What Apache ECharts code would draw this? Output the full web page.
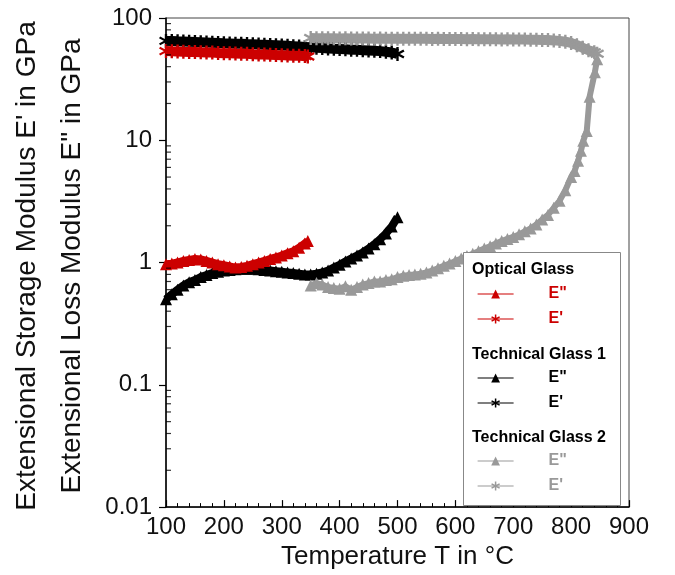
<!DOCTYPE html>
<html>
<head>
<meta charset="utf-8">
<script src="https://cdn.jsdelivr.net/npm/echarts@6/dist/echarts.min.js"></script>
<style>html,body{margin:0;padding:0;background:#fff}#c{width:675px;height:575px}</style>
</head>
<body>
<div id="c"></div>
<script>
// ---- data ----
const tempOG = [100,110,120,130,140,150,160,170,180,190,200,210,220,230,240,250,260,270,280,290,300,310,320,330,340,345];
const ogStorage = [53.6,53.4,53.3,53.0,52.8,52.7,52.4,52.2,52.1,51.8,51.6,51.5,51.2,51.0,50.9,50.6,50.4,50.3,50.0,49.8,49.7,49.4,49.2,49.1,48.8,48.5];
const ogLoss = [0.97,0.98,1.0,1.03,1.05,1.07,1.06,1.03,1.0,0.97,0.95,0.93,0.91,0.92,0.94,0.97,1.0,1.03,1.07,1.1,1.14,1.19,1.24,1.32,1.43,1.5];

const tempTG1 = [100,110,120,130,140,150,160,170,180,190,200,210,220,230,240,250,260,270,280,290,300,310,320,330,340,350,360,370,380,390,400,410,420,430,440,450,460,470,480,490,500];
const tg1Storage = [65.0,64.8,64.5,64.3,64.0,63.7,63.4,63.1,62.8,62.5,62.2,62.0,61.7,61.5,61.2,61.0,60.7,60.5,60.2,59.9,59.6,59.2,58.8,58.4,58.0,57.6,57.2,56.8,56.4,56.0,55.7,55.4,55.1,54.9,54.6,54.3,54.0,53.6,53.0,52.2,50.8];
const tg1Loss = [0.50,0.55,0.60,0.65,0.69,0.72,0.76,0.79,0.82,0.84,0.86,0.87,0.88,0.89,0.89,0.89,0.88,0.87,0.86,0.85,0.84,0.83,0.82,0.81,0.80,0.80,0.81,0.83,0.86,0.91,0.96,1.02,1.08,1.14,1.21,1.30,1.41,1.55,1.73,1.97,2.35];

const tempTG2Storage = [350,360,370,380,390,400,410,420,430,440,450,460,470,480,490,500,510,520,530,540,550,560,570,580,590,600,610,620,630,640,650,660,670,680,690,700,710,720,730,740,750,760,770,780,790,800,810,820,830,840,845];
const tg2Storage = [68.5,68.3,68.4,68.2,68.3,68.1,68.2,68.0,68.1,67.9,68.0,67.8,67.9,67.8,67.7,67.8,67.6,67.7,67.5,67.6,67.5,67.4,67.5,67.3,67.4,67.2,67.3,67.1,67.2,67.0,67.1,66.9,67.0,66.8,66.9,66.7,66.8,66.6,66.5,66.4,66.2,66.0,65.6,65.0,64.0,62.5,60.0,57.0,54.5,52.5,51.0];
const tempTG2Loss = [350,360,370,380,390,400,410,420,430,440,450,460,470,480,490,500,510,520,530,540,550,560,570,580,590,600,610,620,630,640,650,660,670,680,690,700,710,720,730,740,750,760,770,780,790,800,806,812,817,821,827,832,841,845];
const tg2Loss = [0.65,0.68,0.66,0.63,0.62,0.61,0.64,0.60,0.63,0.66,0.68,0.70,0.70,0.72,0.73,0.76,0.78,0.79,0.80,0.81,0.83,0.86,0.90,0.94,0.98,1.03,1.08,1.13,1.18,1.24,1.30,1.36,1.43,1.50,1.56,1.62,1.70,1.80,1.90,2.05,2.25,2.45,2.80,3.20,3.90,5.00,5.6,6.8,8.2,9.9,11.9,22.7,36,46];

const xTicks = [100,200,300,400,500,600,700,800,900];
const yTickLabels = ['0.01','0.1','1','10','100'];
const minorMantissas = [2,3,4,5,6,7,8,9];
const decades = [0.01,0.1,1,10];

const groups = ['Optical Glass','Technical Glass 1','Technical Glass 2'];
const colors = ['#cc0000','#000000','#999999'];

// ---- build ----
const zip = (xs, ys) => xs.map((x,i)=>[x, ys[i]]);
const STAR = 'path://M-1.6,-10 L1.6,-10 L1.6,10 L-1.6,10 Z M7.86,-6.39 L9.46,-3.61 L-7.86,6.39 L-9.46,3.61 Z M9.46,3.61 L7.86,6.39 L-9.46,-3.61 L-7.86,-6.39 Z';

const minorVals = [];
decades.forEach(d => minorMantissas.forEach(m => minorVals.push([100, +(m*d).toPrecision(3)])));

function lineSeries(name, data, color, symbol, size, width, z) {
  return {
    name, type:'line', data, symbol, symbolSize:size, z,
    showSymbol:true, clip:false,
    lineStyle:{color, width}, itemStyle:{color, borderWidth:0},
    emphasis:{disabled:true}
  };
}

const series = [
  lineSeries('Optical Glass|E"', zip(tempOG, ogLoss), colors[0], 'triangle', 12, 8, 3),
  lineSeries("Optical Glass|E'", zip(tempOG, ogStorage), colors[0], STAR, 14, 10, 3),
  lineSeries('Technical Glass 1|E"', zip(tempTG1, tg1Loss), colors[1], 'triangle', 12, 8, 2),
  lineSeries("Technical Glass 1|E'", zip(tempTG1, tg1Storage), colors[1], STAR, 14, 10, 2),
  lineSeries('Technical Glass 2|E"', zip(tempTG2Loss, tg2Loss), colors[2], 'triangle', 12, 6, 2),
  lineSeries("Technical Glass 2|E'", zip(tempTG2Storage, tg2Storage), colors[2], STAR, 14, 10, 2),
  {
    type:'scatter', data:minorVals, symbol:'rect', symbolSize:[5,1.2], symbolOffset:[2.5,0],
    itemStyle:{color:'#000'}, silent:true, z:5, clip:false, emphasis:{disabled:true}
  }
];

const legendTops = [281, 365, 448];
const legends = groups.map((g, gi) => ({
  orient:'vertical', left:472, top:legendTops[gi], itemWidth:36, itemHeight:11, itemGap:9,
  selectedMode:false, z:10,
  lineStyle:{width:1.2},
  itemStyle:{borderWidth:0},
  formatter: n => n.split('|')[1],
  textStyle:{fontFamily:'Liberation Sans', fontSize:16, fontWeight:'bold', padding:[0,0,0,30]},
  data:[
    {name:g+'|E"', textStyle:{color:colors[gi]}},
    {name:g+"|E'", textStyle:{color:colors[gi]}}
  ]
}));

const titleYs = [270, 355, 438];
const graphic = [
  {type:'rect', left:463, top:252, shape:{width:157, height:253}, style:{fill:'#fff', stroke:'#888', lineWidth:1}, z:8},
  ...groups.map((g,i)=>({type:'text', x:472, y:titleYs[i], z:9,
    style:{text:g, fontFamily:'Liberation Sans', fontSize:16, fontWeight:'bold', fill:'#000', verticalAlign:'middle'}})),
  {type:'text', x:27, y:266, rotation:Math.PI/2, z:9,
    style:{text:"Extensional Storage Modulus E' in GPa", fontFamily:'Liberation Sans', fontSize:28, fill:'#111', align:'center', verticalAlign:'middle'}},
  {type:'text', x:72, y:266, rotation:Math.PI/2, z:9,
    style:{text:'Extensional Loss Modulus E" in GPa', fontFamily:'Liberation Sans', fontSize:28, fill:'#111', align:'center', verticalAlign:'middle'}}
];

const chart = echarts.init(document.getElementById('c'), null, {renderer:'canvas'});
chart.setOption({
  animation:false,
  backgroundColor:'#fff',
  grid:{left:166, right:46, top:18, bottom:60, show:true, borderColor:'#444', borderWidth:1, backgroundColor:'transparent'},
  xAxis:{
    type:'value', min:xTicks[0], max:xTicks[xTicks.length-1], interval:100,
    name:'Temperature T in °C', nameLocation:'middle', nameGap:30,
    nameTextStyle:{fontFamily:'Liberation Sans', fontSize:26, color:'#111'},
    axisLine:{show:true, lineStyle:{color:'#000', width:1.5}},
    axisTick:{show:true, inside:true, length:7, lineStyle:{color:'#000', width:1.2}},
    minorTick:{show:true, splitNumber:5, length:4, lineStyle:{color:'#000', width:1}},
    splitLine:{show:false}, minorSplitLine:{show:false},
    axisLabel:{fontFamily:'Liberation Sans', fontSize:24, color:'#111', margin:8,
      formatter: v => xTicks.includes(v) ? String(v) : ''}
  },
  yAxis:{
    type:'log', logBase:10, min:0.01, max:100,
    axisLine:{show:true, lineStyle:{color:'#000', width:1.5}},
    axisTick:{show:true, inside:false, length:7, lineStyle:{color:'#000', width:1.2}},
    splitLine:{show:false},
    axisLabel:{fontFamily:'Liberation Sans', fontSize:24, color:'#111', margin:14,
      formatter: v => yTickLabels[Math.round(Math.log10(v)) + 2] || ''}
  },
  legend:legends,
  graphic,
  series
});
</script>
</body>
</html>
